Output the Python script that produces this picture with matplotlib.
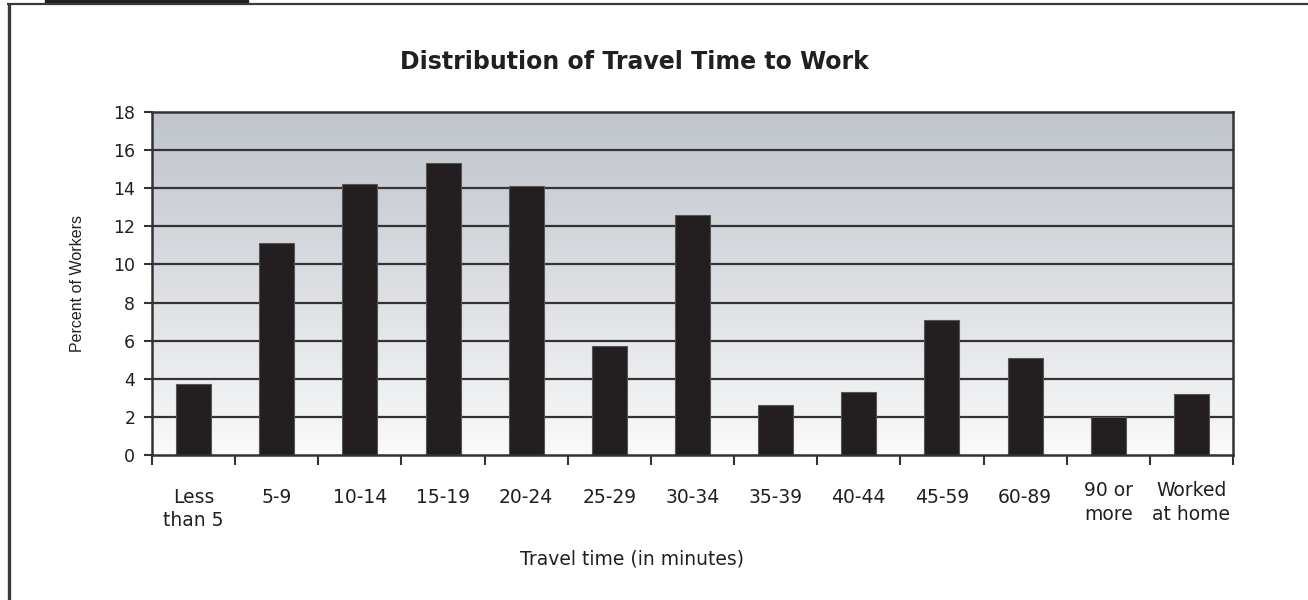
import numpy as np
import matplotlib
matplotlib.use("Agg")
import matplotlib.pyplot as plt
from matplotlib.lines import Line2D
from matplotlib.patches import Rectangle
from matplotlib.transforms import blended_transform_factory

categories = ["Less\nthan 5", "5-9", "10-14", "15-19", "20-24", "25-29", "30-34",
              "35-39", "40-44", "45-59", "60-89", "90 or\nmore", "Worked\nat home"]
percent_workers = [3.7, 11.1, 14.2, 15.3, 14.1, 5.7, 12.6, 2.6, 3.3, 7.1, 5.1, 2.0, 3.2]
y_ticks = [0, 2, 4, 6, 8, 10, 12, 14, 16, 18]

ink = "#231f20"
W, H = 1308.0, 600.0

fig = plt.figure(figsize=(W / 100, H / 100), dpi=100)
fig.patch.set_facecolor("white")

# outer frame with the dark tab on the top edge
fig.add_artist(Line2D([8.5 / W, 8.5 / W], [0, 1 - 4.3 / H], color="#3a3a3a", lw=2.4,
                      transform=fig.transFigure, solid_capstyle="butt"))
fig.add_artist(Line2D([7.3 / W, 1.0], [1 - 4.3 / H, 1 - 4.3 / H], color="#3a3a3a", lw=1.6,
                      transform=fig.transFigure, solid_capstyle="butt"))
fig.add_artist(Rectangle((45 / W, 1 - 3.4 / H), 203 / W, 3.4 / H, color=ink,
                         transform=fig.transFigure))

ax = fig.add_axes([152 / W, 1 - 455 / H, (1233 - 152) / W, (455 - 112) / H])
n = len(categories)
ax.set_xlim(0, n)
ax.set_ylim(0, 18)

# vertical gradient background
grad = np.linspace(0, 1, 256).reshape(-1, 1)
top = np.array([192, 196, 204]) / 255.0
bottom = np.array([251, 251, 251]) / 255.0
img = (bottom + (top - bottom) * grad[:, :, None] ** 0.9).reshape(256, 1, 3)
ax.imshow(img, extent=[0, n, 0, 18], origin="lower", aspect="auto", zorder=0)

for yv in y_ticks[1:-1]:
    ax.axhline(yv, color="#333333", lw=1.6, zorder=1)

x = np.arange(n) + 0.5
ax.bar(x, percent_workers, width=0.42, color=ink, edgecolor="#555555", linewidth=0.8, zorder=2)

for s in ax.spines.values():
    s.set_color("#333333")
    s.set_linewidth(1.8)
    s.set_zorder(3)

ax.set_yticks(y_ticks)
ax.set_yticklabels([str(v) for v in y_ticks], fontsize=12.5, family="DejaVu Sans", color=ink)
ax.set_xticks(np.arange(n + 1))
ax.set_xticklabels([])
ax.tick_params(axis="y", direction="out", length=6, width=1.5, color="#333333", pad=6)
ax.tick_params(axis="x", direction="out", length=7, width=1.5, color="#333333")

# category labels below the axis; the two right-hand two-line labels sit a bit higher
trans = blended_transform_factory(ax.transData, fig.transFigure)
for i, (xi, lab) in enumerate(zip(x, categories)):
    top_px = 481 if (i >= n - 2) else 488
    ax.text(xi, 1 - top_px / H, lab, ha="center", va="top", fontsize=13.5,
            family="DejaVu Sans", color=ink, linespacing=1.3, transform=trans, clip_on=False)

fig.text(78 / W, 1 - 283 / H, "Percent of Workers", rotation=90, ha="center", va="center",
         fontsize=11.5, family="Liberation Sans", color=ink)
fig.text(632 / W, 1 - 559 / H, "Travel time (in minutes)", ha="center", va="center",
         fontsize=13.5, family="DejaVu Sans", color=ink)
fig.text(634 / W, 1 - 62 / H, "Distribution of Travel Time to Work", ha="center", va="center",
         fontsize=17, fontweight="bold", family="DejaVu Sans", color=ink)

fig.savefig("out.png", dpi=100, facecolor="white")
